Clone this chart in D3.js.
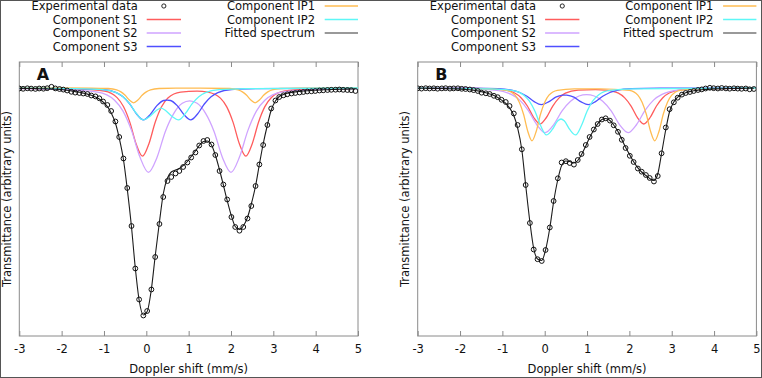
<!DOCTYPE html>
<html>
<head>
<meta charset="utf-8">
<script src="https://cdn.jsdelivr.net/npm/d3@7"></script>
<style>
  body { margin: 0; background: #fff; }
  svg { display: block; font-family: "DejaVu Sans", sans-serif; }
</style>
</head>
<body>
<svg id="chart" width="762" height="378"></svg>
<script>
// ── Data (transmittance in arbitrary per-mille units, velocity in mm/s) ──
const velocity = [
  -3.00, -2.91, -2.81, -2.72, -2.62, -2.53, -2.43, -2.34, -2.24, -2.15,
  -2.05, -1.96, -1.87, -1.77, -1.68, -1.58, -1.49, -1.39, -1.30, -1.20,
  -1.11, -1.02, -0.92, -0.83, -0.73, -0.64, -0.54, -0.45, -0.35, -0.26,
  -0.17, -0.07, 0.02, 0.12, 0.21, 0.31, 0.40, 0.50, 0.59, 0.69,
  0.78, 0.87, 0.97, 1.06, 1.16, 1.25, 1.35, 1.44, 1.54, 1.63,
  1.73, 1.82, 1.91, 2.01, 2.10, 2.20, 2.29, 2.39, 2.48, 2.58,
  2.67, 2.76, 2.86, 2.95, 3.05, 3.14, 3.24, 3.33, 3.43, 3.52,
  3.62, 3.71, 3.80, 3.90, 3.99, 4.09, 4.18, 4.28, 4.37, 4.47,
  4.56, 4.65, 4.75, 4.84, 4.94
];

const expA = [
  999.3, 999.0, 999.5, 999.2, 998.9, 999.3, 999.1, 999.6, 1001.0, 999.4,
  998.8, 998.2, 997.3, 996.0, 995.2, 994.8, 994.3, 993.8, 992.3, 991.4,
  989.5, 986.3, 982.8, 976.8, 966.3, 950.8, 929.3, 899.8, 861.8, 819.3,
  788.3, 772.3, 776.8, 798.3, 830.8, 863.8, 890.8, 906.8, 910.8, 914.3,
  916.8, 920.8, 925.3, 930.3, 935.3, 942.3, 946.8, 947.8, 943.3, 932.8,
  916.8, 903.3, 888.3, 870.8, 860.8, 857.1, 860.8, 869.3, 881.8, 901.8,
  923.3, 942.8, 962.8, 979.3, 987.3, 990.8, 992.5, 993.5, 994.3, 994.8,
  995.3, 995.8, 996.3, 996.5, 996.8, 997.3, 997.5, 997.8, 998.0, 998.1,
  998.3, 998.0, 997.8, 997.6, 996.8
];
const fitA = [
  999.4, 999.4, 999.3, 999.3, 999.2, 999.1, 999.0, 998.9, 998.8, 998.6,
  998.4, 998.0, 997.5, 996.9, 996.2, 995.5, 994.7, 993.7, 992.5, 990.9,
  988.8, 985.8, 981.3, 974.8, 964.8, 949.8, 928.3, 898.8, 860.8, 819.8,
  787.8, 772.8, 776.3, 798.8, 831.8, 865.8, 893.8, 909.8, 915.8, 917.8,
  919.3, 922.3, 926.3, 931.3, 936.8, 942.3, 946.3, 946.8, 942.8, 932.8,
  917.8, 902.8, 887.3, 871.8, 861.3, 858.3, 861.8, 870.3, 883.8, 901.8,
  923.3, 943.8, 962.8, 977.8, 986.8, 991.3, 993.3, 994.5, 995.3, 995.9,
  996.4, 996.8, 997.1, 997.4, 997.6, 997.8, 998.0, 998.1, 998.3, 998.4,
  998.5, 998.6, 998.7, 998.8, 998.8
];
const expB = [
  999.5, 999.2, 999.6, 999.3, 999.5, 999.1, 999.4, 999.6, 999.2, 999.4,
  999.5, 999.0, 998.8, 998.3, 997.7, 996.8, 995.1, 994.5, 993.8, 992.0,
  990.6, 988.0, 985.8, 981.8, 974.3, 962.8, 938.5, 902.8, 864.8, 838.3,
  828.6, 826.8, 837.8, 860.3, 886.8, 909.5, 925.3, 926.6, 924.8, 923.2,
  927.8, 933.8, 942.8, 950.8, 958.3, 963.8, 968.3, 969.5, 967.2, 962.5,
  956.0, 948.0, 939.8, 932.0, 925.8, 919.3, 916.1, 912.8, 909.8, 906.3,
  911.8, 934.5, 960.3, 978.6, 985.5, 990.1, 993.2, 994.8, 995.8, 996.8,
  997.8, 998.4, 999.3, 1000.0, 999.6, 999.3, 999.8, 999.4, 999.1, 999.5,
  999.2, 999.0, 999.3, 998.5, 998.8
];
const fitB = [
  999.5, 999.5, 999.5, 999.4, 999.4, 999.3, 999.3, 999.2, 999.1, 999.0,
  998.9, 998.7, 998.4, 998.0, 997.5, 996.9, 996.1, 995.1, 993.9, 992.3,
  990.3, 987.7, 984.5, 979.8, 972.3, 959.8, 937.8, 902.8, 865.8, 839.3,
  828.8, 827.3, 837.8, 859.8, 885.8, 908.3, 922.3, 926.8, 926.3, 924.8,
  927.3, 933.3, 941.8, 950.3, 957.8, 964.0, 968.3, 969.3, 967.3, 962.8,
  956.3, 948.6, 940.5, 932.8, 926.0, 920.0, 915.8, 912.3, 909.3, 907.3,
  913.8, 934.3, 958.3, 976.3, 985.8, 990.6, 993.3, 995.0, 996.2, 997.0,
  997.6, 998.1, 998.4, 998.7, 998.9, 999.0, 999.1, 999.2, 999.3, 999.3,
  999.4, 999.4, 999.5, 999.5, 999.5
];

// fitted components, [velocity, transmittance]
const s1A = [[-3, 999.5], [-1.59, 998.6], [-0.99, 996.6], [-0.69, 990.2], [-0.54, 981.3], [-0.39, 965.7], [-0.24, 943.8], [-0.09, 931.6], [0.06, 943.8], [0.21, 965.5], [0.36, 981.0], [0.51, 989.8], [0.81, 995.7], [1.2, 996.6], [1.45, 995.7], [1.75, 989.7], [1.9, 980.9], [2.05, 965.4], [2.2, 943.7], [2.35, 931.6], [2.5, 943.8], [2.65, 965.6], [2.8, 981.2], [2.95, 990.1], [3.25, 996.6], [3.85, 998.6], [5, 999.5]];
const s2A = [[-3, 999.1], [-1.95, 998.1], [-1.15, 995.7], [-0.75, 987.6], [-0.55, 976.7], [-0.35, 957.4], [-0.15, 930.7], [0.05, 915.5], [0.25, 930.1], [0.45, 956.4], [0.65, 974.5], [0.85, 984.5], [1.025, 987.0], [1.2, 984.5], [1.4, 974.5], [1.6, 956.4], [1.8, 930.1], [2.0, 915.5], [2.2, 930.7], [2.4, 957.4], [2.6, 976.7], [2.8, 987.6], [3.2, 995.7], [4.0, 998.1], [5, 999.1]];
const s3A = [[-3, 999.7], [-1.67, 999.2], [-1.03, 998.3], [-0.71, 995.2], [-0.55, 991.0], [-0.39, 983.8], [-0.23, 973.8], [-0.07, 967.9], [0.09, 973.2], [0.25, 982.2], [0.41, 987.3], [0.49, 987.6], [0.57, 987.3], [0.73, 982.2], [0.89, 973.2], [1.05, 967.9], [1.21, 973.8], [1.37, 983.8], [1.53, 991.0], [1.69, 995.2], [2.01, 998.3], [2.65, 999.2], [5, 999.7]];
const ip1A = [[-3, 999.9], [-1.3, 999.7], [-0.9, 999.3], [-0.7, 997.9], [-0.6, 995.9], [-0.5, 992.5], [-0.4, 987.7], [-0.3, 985.0], [-0.2, 987.7], [-0.1, 992.5], [0, 995.9], [0.1, 997.9], [0.3, 999.3], [0.7, 999.7], [1.27, 999.7], [1.97, 999.3], [2.17, 997.9], [2.27, 995.9], [2.37, 992.5], [2.47, 987.7], [2.57, 985.0], [2.67, 987.7], [2.77, 992.5], [2.87, 995.9], [2.97, 997.9], [3.17, 999.3], [3.57, 999.7], [5, 999.9]];
const ip2A = [[-3, 999.7], [-1.67, 999.2], [-1.03, 998.2], [-0.71, 995.2], [-0.55, 991.1], [-0.39, 984.0], [-0.23, 974.1], [-0.07, 967.9], [0.09, 971.6], [0.25, 977.8], [0.345, 979.6], [0.44, 977.8], [0.60, 971.6], [0.76, 967.9], [0.92, 974.1], [1.08, 984.0], [1.24, 991.1], [1.40, 995.2], [1.72, 998.2], [2.36, 999.2], [5, 999.8]];

const s1B = [[-3, 999.7], [-1.61, 999.3], [-1.01, 998.2], [-0.71, 994.8], [-0.56, 990.1], [-0.41, 981.8], [-0.26, 970.3], [-0.11, 963.8], [0.04, 970.3], [0.19, 981.7], [0.34, 989.9], [0.49, 994.6], [0.79, 997.7], [1.2, 998.2], [1.44, 997.7], [1.74, 994.6], [1.89, 989.9], [2.04, 981.7], [2.19, 970.2], [2.34, 963.8], [2.49, 970.3], [2.64, 981.8], [2.79, 990.1], [2.94, 994.8], [3.24, 998.2], [3.84, 999.3], [5, 999.7]];
const s2B = [[-3, 999.5], [-1.99, 999.0], [-1.19, 997.7], [-0.79, 993.4], [-0.59, 987.7], [-0.39, 977.4], [-0.19, 963.3], [0.01, 955.2], [0.21, 963.0], [0.41, 976.9], [0.61, 986.5], [0.81, 991.8], [0.99, 993.1], [1.17, 991.8], [1.37, 986.5], [1.57, 976.9], [1.77, 963.0], [1.97, 955.2], [2.17, 963.3], [2.37, 977.4], [2.57, 987.7], [2.77, 993.4], [3.17, 997.7], [3.97, 999.0], [5, 999.5]];
const s3B = [[-3, 999.8], [-1.78, 999.6], [-1.10, 999.1], [-0.76, 997.5], [-0.59, 995.3], [-0.42, 991.5], [-0.25, 986.2], [-0.08, 983.1], [0.09, 985.9], [0.26, 990.6], [0.43, 992.6], [0.475, 992.7], [0.52, 992.6], [0.69, 990.6], [0.86, 985.9], [1.03, 983.1], [1.20, 986.2], [1.37, 991.5], [1.54, 995.3], [1.71, 997.5], [2.05, 999.1], [2.73, 999.6], [5, 999.8]];
const ip1B = [[-3, 999.7], [-1.3, 998.9], [-0.9, 997.5], [-0.7, 992.6], [-0.6, 985.5], [-0.5, 973.5], [-0.4, 956.6], [-0.3, 947.0], [-0.2, 956.6], [-0.1, 973.5], [0.0, 985.5], [0.1, 992.6], [0.3, 997.5], [0.7, 998.9], [1.3, 999.0], [2.0, 997.5], [2.2, 992.6], [2.3, 985.5], [2.4, 973.5], [2.5, 956.6], [2.6, 947.0], [2.7, 956.6], [2.8, 973.5], [2.9, 985.5], [3.0, 992.6], [3.2, 997.5], [3.6, 998.9], [5, 999.7]];
const ip2B = [[-3, 999.7], [-1.31, 998.9], [-0.77, 997.4], [-0.5, 992.9], [-0.365, 987.0], [-0.23, 976.5], [-0.095, 962.0], [0.04, 952.9], [0.175, 958.1], [0.31, 967.0], [0.385, 968.8], [0.46, 967.0], [0.595, 958.1], [0.73, 952.9], [0.865, 962.0], [1.0, 976.5], [1.135, 987.0], [1.27, 992.9], [1.54, 997.4], [2.08, 998.9], [5, 999.8]];

const xTicks = [-3, -2, -1, 0, 1, 2, 3, 4, 5];
const legendLeft = ['Experimental data', 'Component S1', 'Component S2', 'Component S3'];
const legendRight = ['Component IP1', 'Component IP2', 'Fitted spectrum'];

// ── Layout ──────────────────────────────────────────────────────────────
const W = 762, H = 378;
const PLOT_W = 338.7, TOP = 62, BOTTOM = 336;
const FONT = 11.5;
const COLORS = {
  s1: '#ff5c5c', s2: '#cfa3ff', s3: '#4f4fff',
  ip1: '#ffbc52', ip2: '#5ef7f7', fit: '#1c1c1c'
};

const svg = d3.select('#chart');

svg.append('rect')
  .attr('x', 0.5).attr('y', 0.5).attr('width', W - 1).attr('height', H - 1)
  .attr('fill', '#fff').attr('stroke', '#555').attr('stroke-width', 1);

const y = d3.scaleLinear().domain([751.8, 1025.8]).range([BOTTOM, TOP]);

const panels = [
  { label: 'A', left: 19.3, exp: expA, fit: fitA,
    comps: [
      { key: 's1', values: s1A }, { key: 's2', values: s2A }, { key: 's3', values: s3A },
      { key: 'ip1', values: ip1A }, { key: 'ip2', values: ip2A }
    ] },
  { label: 'B', left: 417.7, exp: expB, fit: fitB,
    comps: [
      { key: 's1', values: s1B }, { key: 's2', values: s2B }, { key: 's3', values: s3B },
      { key: 'ip1', values: ip1B }, { key: 'ip2', values: ip2B }
    ] }
];

function drawPanel(p, idx) {
  const right = p.left + PLOT_W;
  const x = d3.scaleLinear().domain([-3, 5]).range([p.left, right]);
  const g = svg.append('g');

  const clipId = `clip-${idx}`;
  g.append('defs').append('clipPath').attr('id', clipId)
    .append('rect').attr('x', p.left).attr('y', TOP).attr('width', PLOT_W).attr('height', BOTTOM - TOP);

  // ticks, inside the frame on both edges
  g.append('g')
    .attr('transform', `translate(0,${BOTTOM})`)
    .call(d3.axisBottom(x).tickValues(xTicks).tickSize(-5).tickPadding(9).tickFormat(d => String(d)))
    .call(a => a.select('.domain').remove())
    .call(a => a.selectAll('line').attr('stroke', '#8a8a8a'))
    .call(a => a.attr('font-size', FONT).attr('font-family', null))
    .call(a => a.selectAll('text').attr('fill', '#111'));

  g.append('g')
    .attr('transform', `translate(0,${TOP})`)
    .call(d3.axisTop(x).tickValues(xTicks).tickSize(-5).tickFormat(''))
    .call(a => a.select('.domain').remove())
    .call(a => a.selectAll('line').attr('stroke', '#8a8a8a'));

  g.append('rect')
    .attr('x', p.left).attr('y', TOP).attr('width', PLOT_W).attr('height', BOTTOM - TOP)
    .attr('fill', 'none').attr('stroke', '#8a8a8a').attr('stroke-width', 1);

  const plot = g.append('g').attr('clip-path', `url(#${clipId})`);

  const compLine = d3.line().x(d => x(d[0])).y(d => y(d[1])).curve(d3.curveMonotoneX);
  p.comps.forEach(c => {
    plot.append('path').datum(c.values)
      .attr('d', compLine)
      .attr('fill', 'none').attr('stroke', COLORS[c.key]).attr('stroke-width', 1.3);
  });

  const fitLine = d3.line().x((d, i) => x(velocity[i])).y(d => y(d)).curve(d3.curveMonotoneX);
  plot.append('path').datum(p.fit)
    .attr('d', fitLine)
    .attr('fill', 'none').attr('stroke', COLORS.fit).attr('stroke-width', 1.1);

  plot.selectAll('circle.pt').data(p.exp).join('circle')
    .attr('class', 'pt')
    .attr('cx', (d, i) => x(velocity[i]))
    .attr('cy', d => y(d))
    .attr('r', 2.4)
    .attr('fill', 'none').attr('stroke', '#111').attr('stroke-width', 1);

  // panel letter
  g.append('text')
    .attr('x', p.left + 17.5).attr('y', 80)
    .attr('font-size', 16).attr('font-weight', 'bold').attr('fill', '#111')
    .text(p.label);

  // axis titles
  g.append('text')
    .attr('x', (p.left + right) / 2).attr('y', 373)
    .attr('text-anchor', 'middle').attr('font-size', FONT).attr('fill', '#111')
    .text('Doppler shift (mm/s)');

  g.append('text')
    .attr('transform', `translate(${p.left - 8.7},${(TOP + BOTTOM) / 2}) rotate(-90)`)
    .attr('text-anchor', 'middle').attr('font-size', FONT).attr('fill', '#111')
    .text('Transmittance (arbitrary units)');

  // legend, two columns keyed to the right edge of the frame
  const rowY = i => 10 + i * 13.5;
  const leftKeys = ['exp', 's1', 's2', 's3'];
  const rightKeys = ['ip1', 'ip2', 'fit'];
  const col1End = right - 220.3, col1Line = [right - 211.3, right - 177];
  const col2End = right - 43, col2Line = [right - 33.3, right];

  legendLeft.forEach((name, i) => {
    g.append('text')
      .attr('x', col1End).attr('y', rowY(i))
      .attr('text-anchor', 'end').attr('font-size', FONT).attr('fill', '#111')
      .text(name);
    if (leftKeys[i] === 'exp') {
      g.append('circle')
        .attr('cx', (col1Line[0] + col1Line[1]) / 2).attr('cy', rowY(i) - 4)
        .attr('r', 2.1).attr('fill', 'none').attr('stroke', '#111').attr('stroke-width', 0.9);
    } else {
      g.append('line')
        .attr('x1', col1Line[0]).attr('x2', col1Line[1])
        .attr('y1', rowY(i) - 4).attr('y2', rowY(i) - 4)
        .attr('stroke', COLORS[leftKeys[i]]).attr('stroke-width', 1.3);
    }
  });

  legendRight.forEach((name, i) => {
    g.append('text')
      .attr('x', col2End).attr('y', rowY(i))
      .attr('text-anchor', 'end').attr('font-size', FONT).attr('fill', '#111')
      .text(name);
    g.append('line')
      .attr('x1', col2Line[0]).attr('x2', col2Line[1])
      .attr('y1', rowY(i) - 4).attr('y2', rowY(i) - 4)
      .attr('stroke', rightKeys[i] === 'fit' ? '#777' : COLORS[rightKeys[i]]).attr('stroke-width', 1.3);
  });
}

panels.forEach(drawPanel);
</script>
</body>
</html>
